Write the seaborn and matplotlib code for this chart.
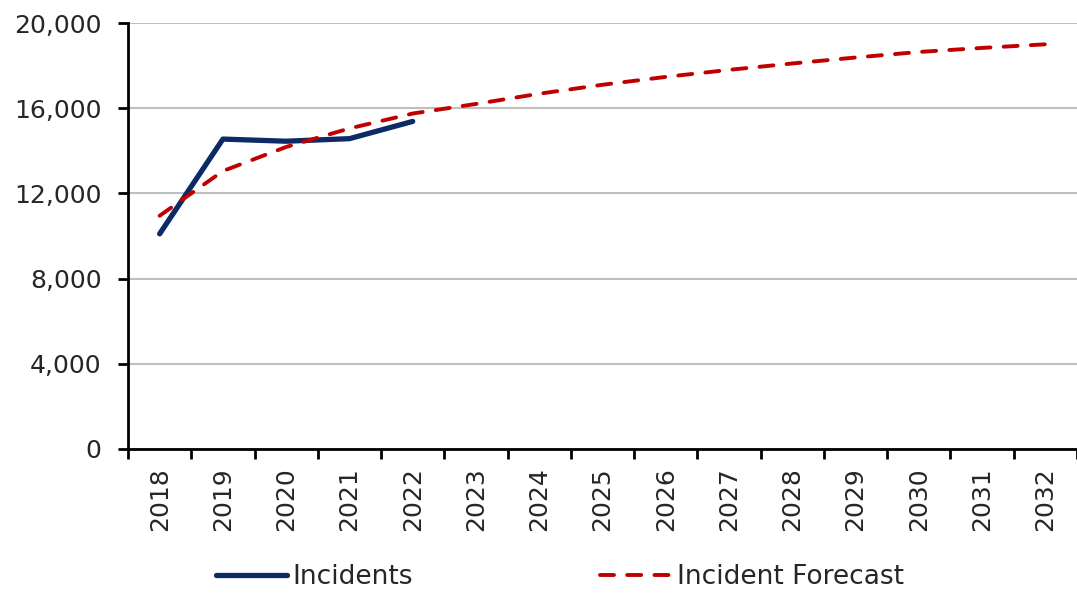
import numpy as np
import pandas as pd
import matplotlib
matplotlib.use('Agg')
import matplotlib.pyplot as plt
import seaborn as sns

# data
years = list(range(2018, 2033))
incidents = [10100, 14550, 14450, 14570, 15380]
forecast = [10950, 13050, 14180, 15050, 15750, 16200, 16680, 17100, 17470,
            17800, 18100, 18380, 18640, 18830, 19000]

sns.set_style('white')
plt.rcParams['font.family'] = ['DejaVu Sans']

df_inc = pd.DataFrame({'year': years[:len(incidents)], 'value': incidents})
df_fc = pd.DataFrame({'year': years, 'value': forecast})

fig = plt.figure(figsize=(10.77, 5.96), dpi=100)
ax = fig.add_axes([128 / 1077, 147 / 596, 1 - 128 / 1077, 426 / 596])

sns.lineplot(data=df_inc, x='year', y='value', ax=ax, color='#0B2A66',
             linewidth=3.8, label='Incidents', zorder=3)
sns.lineplot(data=df_fc, x='year', y='value', ax=ax, color='#C00000',
             linewidth=2.8, label='Incident Forecast', zorder=4)
ax.lines[0].set_solid_capstyle('round')
ax.lines[1].set_dashes((3.6, 3.4))
ax.lines[1].set_dash_capstyle('round')

ax.set_xlim(2017.5, 2032.5)
ax.set_ylim(0, 20000)
ax.set_yticks(np.arange(0, 20001, 4000))
ax.set_yticklabels([f'{v:,}' for v in range(0, 20001, 4000)])
ax.set_xticks(years)
ax.set_xticklabels([str(y) for y in years], rotation=90)
ax.set_xticks(np.arange(2017.5, 2033, 1), minor=True)
ax.set_xlabel('')
ax.set_ylabel('')

ax.grid(axis='y', color='#BFBFBF', linewidth=1.5)
ax.set_axisbelow(True)
for s in ['top', 'right']:
    ax.spines[s].set_visible(False)
for s in ['left', 'bottom']:
    ax.spines[s].set_color('black')
    ax.spines[s].set_linewidth(2)

ax.tick_params(axis='y', which='major', length=7, width=2, color='black',
               left=True, labelsize=18, labelcolor='#262626', pad=12)
ax.tick_params(axis='x', which='major', length=0, labelsize=18,
               labelcolor='#262626', pad=13)
ax.tick_params(axis='x', which='minor', length=7, width=2, color='black',
               bottom=True)

leg = ax.legend(loc='center', bbox_to_anchor=(0.52, 0.032),
                bbox_transform=fig.transFigure, ncol=2, frameon=False,
                fontsize=19, handlelength=2.7, handletextpad=0.2,
                columnspacing=7.1, labelcolor='#262626')
for h in leg.get_lines():
    h.set_solid_capstyle('round')
    h.set_dash_capstyle('round')

fig.savefig('out.png', dpi=100)
